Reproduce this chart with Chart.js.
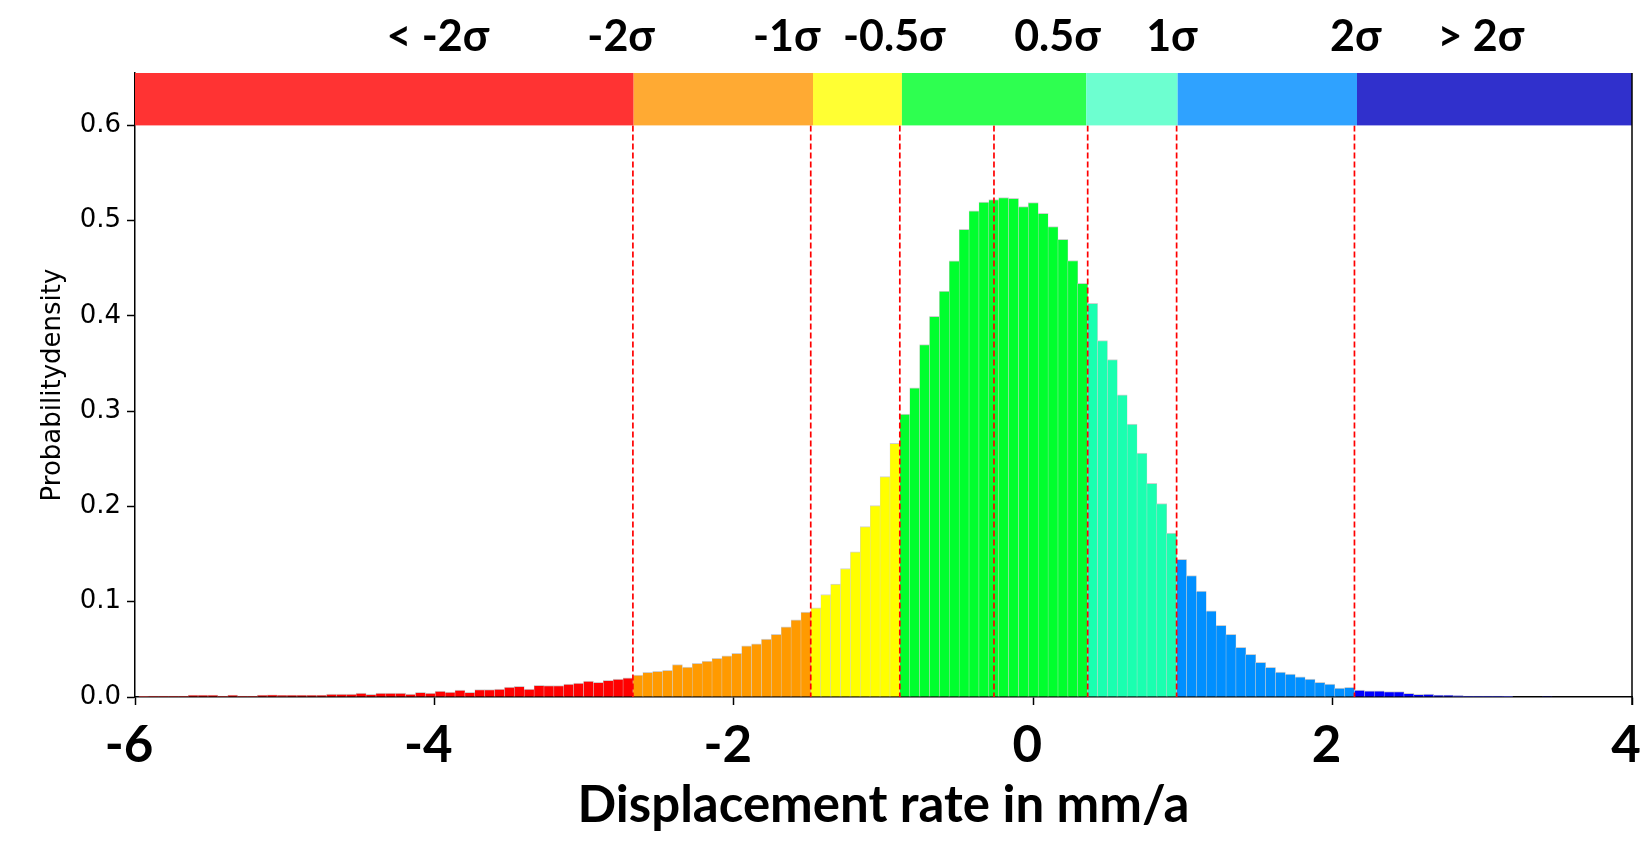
<!DOCTYPE html>
<html><head><meta charset="utf-8">
<script src="https://cdn.jsdelivr.net/npm/chart.js@4.4.1/dist/chart.umd.min.js"></script>
<style>html,body{margin:0;padding:0;background:#fff;} #wrap{width:1650px;height:841px;position:relative;}</style>
</head><body><div id="wrap"><canvas id="c" width="1650" height="841"></canvas></div>
<script>
// ---- data ----
const binStart = -5.975;      // left edge of the first histogram bin (mm/a)
const binWidth = 0.06603;     // histogram bin width (mm/a)
const density = [
  // < -2σ
  0.0007, 0.001, 0.001, 0.001, 0.001, 0.0021, 0.0021, 0.0021, 0.001, 0.0021,
  0.001, 0.001, 0.0021, 0.0024, 0.0017, 0.0021, 0.0021, 0.0021, 0.0021, 0.0031,
  0.0031, 0.0031, 0.0042, 0.0028, 0.0042, 0.0042, 0.0042, 0.0031, 0.0049, 0.0042,
  0.0063, 0.0052, 0.0073, 0.0049, 0.0077, 0.0077, 0.0084, 0.0105, 0.0112, 0.0084,
  0.0122, 0.0119, 0.0119, 0.0136, 0.0147, 0.0168, 0.0154, 0.0175, 0.0189, 0.0202,
  // -2σ .. -1σ
  0.0231, 0.0259, 0.0269, 0.028, 0.0339, 0.0314, 0.0353, 0.0377, 0.0405, 0.0433,
  0.0458, 0.0538, 0.0559, 0.0608, 0.0657, 0.0737, 0.0811, 0.0891,
  // -1σ .. -0.5σ
  0.0936, 0.1076, 0.1184, 0.1349, 0.1523, 0.1789, 0.2009, 0.2313, 0.2662,
  // -0.5σ .. 0.5σ
  0.297, 0.3244, 0.3699, 0.3995, 0.426, 0.4578, 0.4908, 0.5103, 0.5196, 0.5222,
  0.5241, 0.5234, 0.5148, 0.5189, 0.5076, 0.4938, 0.4803, 0.4582, 0.4343,
  // 0.5σ .. 1σ
  0.4133, 0.374, 0.3541, 0.3171, 0.2864, 0.2561, 0.2242, 0.2029, 0.172,
  // 1σ .. 2σ
  0.1444, 0.1274, 0.1113, 0.0905, 0.0751, 0.0657, 0.0521, 0.0447, 0.0363, 0.0311,
  0.0262, 0.0241, 0.0213, 0.0189, 0.0154, 0.0136, 0.0094, 0.0101,
  // > 2σ
  0.0073, 0.0066, 0.0066, 0.0056, 0.0056, 0.0038, 0.0028, 0.0031, 0.0021, 0.0021,
  0.0014, 0.001, 0.001, 0.001, 0.001, 0.0007, 0.0005, 0.0005, 0.0004, 0.0003
];
const classEdges = [-2.674, -1.486, -0.891, 0.364, 0.958, 2.146];          // colour class limits of the bars
const lineValues = [-2.674, -1.486, -0.891, -0.262, 0.364, 0.958, 2.146];   // red dashed lines
const bandEdges  = [-6, -2.669, -1.471, -0.877, 0.354, 0.965, 2.163, 4];    // top colour band
const sigmaLabels = ['< -2σ', '-2σ', '-1σ', '-0.5σ', '0.5σ', '1σ', '2σ', '> 2σ'];
const sigmaLabelAt = [-3.977, -2.753, -1.646, -0.928, 0.162, 0.926, 2.155, 2.99];
const xTicks = [-6, -4, -2, 0, 2, 4];
const yTicks = [0, 0.1, 0.2, 0.3, 0.4, 0.5, 0.6];
const bandTop = 0.6;
const yMax = 0.655;

// ---- styles ----
const barPalette  = ['#ff0000', '#ff9a00', '#ffff00', '#00ff2e', '#1affb0', '#008fff', '#0000ff'];
const bandPalette = ['#ff3333', '#ffaa33', '#ffff33', '#2eff50', '#6dffd0', '#2fa2ff', '#3030cc'];

const points = density.map((d, i) => ({ x: binStart + (i + 0.5) * binWidth, y: d }));
const colours = points.map(p => {
  let k = 0;
  while (k < classEdges.length && p.x > classEdges[k]) k++;
  return barPalette[k];
});

const overlay = {
  id: 'overlay',
  afterDatasetsDraw(chart) {
    const { ctx, chartArea: a, scales: { x, y } } = chart;
    const yb = y.getPixelForValue(bandTop);
    ctx.save();
    ctx.strokeStyle = '#ff0000';
    ctx.lineWidth = 1.7;
    ctx.setLineDash([6, 3]);
    lineValues.forEach(v => {
      const px = x.getPixelForValue(v);
      ctx.beginPath(); ctx.moveTo(px, yb); ctx.lineTo(px, a.bottom); ctx.stroke();
    });
    ctx.setLineDash([]);
    for (let i = 0; i < bandPalette.length; i++) {
      const x0 = x.getPixelForValue(bandEdges[i]);
      const x1 = x.getPixelForValue(bandEdges[i + 1]);
      ctx.fillStyle = bandPalette[i];
      ctx.fillRect(x0, a.top, x1 - x0, yb - a.top);
    }
    ctx.strokeStyle = '#000';
    ctx.lineWidth = 1.5;
    ctx.beginPath(); ctx.moveTo(a.right, a.top); ctx.lineTo(a.right, a.bottom + 8); ctx.stroke();
    ctx.fillStyle = '#000';
    ctx.font = 'bold 43px Lato';
    ctx.textAlign = 'center';
    ctx.textBaseline = 'alphabetic';
    sigmaLabels.forEach((t, i) => ctx.fillText(t, x.getPixelForValue(sigmaLabelAt[i]), a.top - 22));
    ctx.restore();
  }
};

new Chart(document.getElementById('c'), {
  type: 'bar',
  data: {
    datasets: [{
      data: points,
      backgroundColor: colours,
      borderColor: '#cfcfcf',
      borderWidth: { top: 1, left: 0.5, right: 0.5, bottom: 0 },
      borderSkipped: 'start',
      barPercentage: 1,
      categoryPercentage: 1
    }]
  },
  options: {
    responsive: false,
    animation: false,
    devicePixelRatio: 1,
    layout: { padding: { left: 0, right: 18, top: 73, bottom: 0 } },
    plugins: { legend: { display: false }, tooltip: { enabled: false }, title: { display: false } },
    scales: {
      x: {
        type: 'linear', min: -6, max: 4, offset: false,
        grid: { display: true, drawOnChartArea: false, drawTicks: true, tickLength: 8, tickWidth: 1.5, tickColor: '#000', offset: false },
        border: { display: true, color: '#000', width: 1.5 },
        ticks: { font: { family: 'Lato', weight: 'bold', size: 51 }, color: '#000', padding: 10, labelOffset: -6,
                 maxRotation: 0, autoSkip: false, callback: v => String(v) },
        title: { display: true, text: 'Displacement rate in mm/a', color: '#000',
                 font: { family: 'Lato', weight: 'bold', size: 51, lineHeight: 1.2 }, padding: { top: 0, bottom: 5 } },
        afterFit: s => { s.height = 144; s.paddingLeft = 0; s.paddingRight = 0; },
        afterBuildTicks: s => { s.ticks = xTicks.map(v => ({ value: v })); }
      },
      y: {
        type: 'linear', min: 0, max: yMax,
        grid: { display: true, drawOnChartArea: false, drawTicks: true, tickLength: 8, tickWidth: 1.5, tickColor: '#000' },
        border: { display: true, color: '#000', width: 1.5 },
        ticks: { font: { family: 'DejaVu Sans', size: 26 }, color: '#000', padding: 6, includeBounds: false, callback: v => Number(v).toFixed(1) },
        title: { display: true, text: 'Probabilitydensity', color: '#000',
                 font: { family: 'DejaVu Sans', size: 26, lineHeight: 1.2 }, padding: { top: 38, bottom: 0 } },
        afterFit: s => { s.width = 135; s.paddingTop = 0; s.paddingBottom = 0; },
        afterBuildTicks: s => { s.ticks = yTicks.map(v => ({ value: v })); }
      }
    }
  },
  plugins: [overlay]
});
</script>
</body></html>
